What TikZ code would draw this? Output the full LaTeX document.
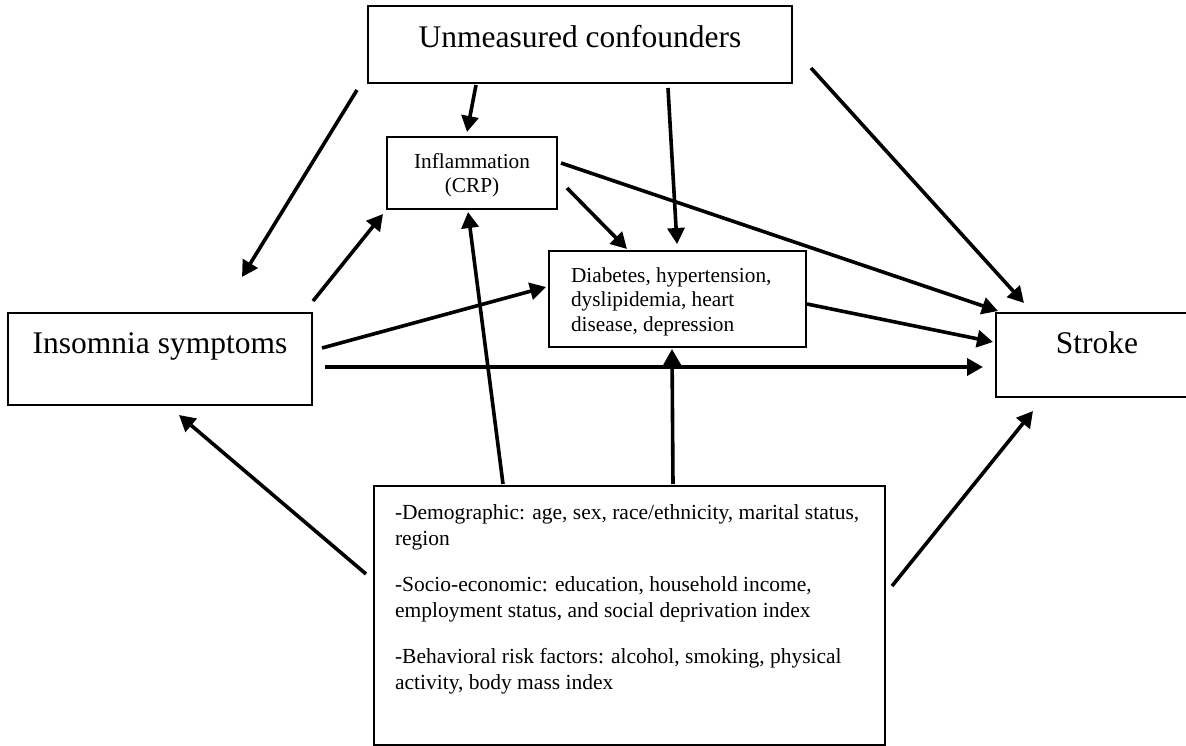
\documentclass[tikz,border=0pt]{standalone}
\usepackage{fontspec}
\setmainfont{Liberation Serif}
\usetikzlibrary{arrows.meta}
\begin{document}
\begin{tikzpicture}[x=1pt,y=-1pt,
  box/.style={draw, line width=2.6pt, inner sep=0pt},
  big/.style={font=\fontsize{31.5}{38}\selectfont},
  small/.style={font=\fontsize{21.3}{24}\selectfont},
  arr/.style={line width=3.6pt, -{Triangle[length=16pt,width=17pt]}}]
\useasboundingbox (0,0) rectangle (1186,746);

% boxes
\node[box, big, minimum width=424pt, minimum height=77pt] (unm) at (580,44.5)
  {\raisebox{-3.5pt}[0pt][0pt]{Unmeasured confounders}};
\node[box, big, minimum width=304pt, minimum height=92pt] (ins) at (160,359)
  {\raisebox{6pt}[0pt][0pt]{Insomnia symptoms}};
\node[box, big, minimum width=202pt, minimum height=84pt] (str) at (1097,355)
  {\raisebox{2pt}[0pt][0pt]{Stroke}};
\node[box, small, minimum width=170pt, minimum height=72pt] (inf) at (472,173)
  {\raisebox{4pt}[0pt][0pt]{\begin{tabular}[t]{@{}c@{}}Inflammation\\(CRP)\end{tabular}}};
\node[box, font=\fontsize{21.3}{24.5}\selectfont, minimum width=257pt, minimum height=96pt] (dis) at (677.5,299)
  {\raisebox{17pt}[0pt][0pt]{\begin{tabular}[t]{@{}p{213pt}@{}}Diabetes, hypertension,\\dyslipidemia, heart\\disease, depression\end{tabular}}};
\node[box, font=\fontsize{21.5}{26}\selectfont, minimum width=511pt, minimum height=259pt] (cov) at (629.5,615.5)
  {\raisebox{96.5pt}[0pt][0pt]{\makebox[469pt][l]{\begin{tabular}[t]{@{}l@{}}
  -Demographic: age, sex, race/ethnicity, marital status,\\
  region\\[20pt]
  -Socio-economic: education, household income,\\
  employment status, and social deprivation index\\[20pt]
  -Behavioral risk factors: alcohol, smoking, physical\\
  activity, body mass index
  \end{tabular}}}};

% connector end points
\coordinate (uI1) at (357,90);  \coordinate (uI2) at (242,277);
\coordinate (uF1) at (476,85);  \coordinate (uF2) at (467,132);
\coordinate (uD1) at (668,88);  \coordinate (uD2) at (677,244);
\coordinate (uS1) at (811,68);  \coordinate (uS2) at (1024,303);
\coordinate (fS1) at (561,163); \coordinate (fS2) at (998,311);
\coordinate (fD1) at (567,188); \coordinate (fD2) at (627,249);
\coordinate (iF1) at (313,301); \coordinate (iF2) at (383,214);
\coordinate (iD1) at (322,348); \coordinate (iD2) at (546,287);
\coordinate (iS1) at (325,367); \coordinate (iS2) at (983,367);
\coordinate (dS1) at (807,304); \coordinate (dS2) at (993,342);
\coordinate (cF1) at (503,484); \coordinate (cF2) at (468,212);
\coordinate (cD1) at (673,484); \coordinate (cD2) at (672,349);
\coordinate (cI1) at (366,574); \coordinate (cI2) at (179,415);
\coordinate (cS1) at (892,586); \coordinate (cS2) at (1033,411);

\draw[arr] (uI1) -- (uI2);
\draw[arr] (uF1) -- (uF2);
\draw[arr] (uD1) -- (uD2);
\draw[arr] (uS1) -- (uS2);
\draw[arr] (fS1) -- (fS2);
\draw[arr] (fD1) -- (fD2);
\draw[arr] (iF1) -- (iF2);
\draw[arr] (iD1) -- (iD2);
\draw[arr] (iS1) -- (iS2);
\draw[arr] (dS1) -- (dS2);
\draw[arr] (cF1) -- (cF2);
\draw[arr] (cD1) -- (cD2);
\draw[arr] (cI1) -- (cI2);
\draw[arr] (cS1) -- (cS2);
\end{tikzpicture}
\end{document}
